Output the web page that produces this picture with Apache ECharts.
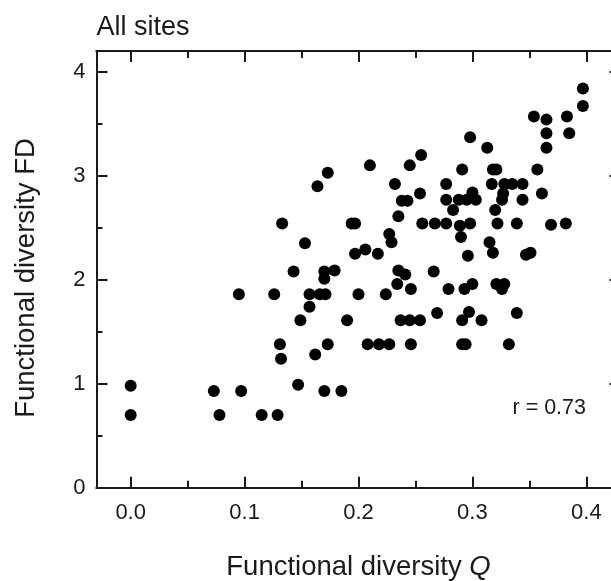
<!DOCTYPE html>
<html>
<head>
<meta charset="utf-8">
<script src="https://cdn.jsdelivr.net/npm/echarts@6/dist/echarts.min.js"></script>
<style>
html,body{margin:0;padding:0;background:#fff;}
#c{width:611px;height:581px;}
</style>
</head>
<body>
<div id="c"></div>
<script>
// Functional diversity Q (x) and FD (y) for all sites
const qValues = [
  0.173,0.164,0.133,0.153,
  0.397,0.397,0.354,0.365,0.383,0.365,0.385,0.365,0.298,0.313,0.255,0.210,0.245,0.291,0.318,0.321,
  0.357,0.232,0.277,0.317,0.328,0.335,0.344,0.254,0.361,0.300,0.327,0.238,0.243,0.277,0.288,0.295,
  0.303,0.326,0.344,0.283,0.320,0.235,0.194,0.197,0.256,0.267,0.277,0.289,0.298,0.322,0.339,0.369,
  0.382,0.227,0.229,0.290,0.315,0.197,0.206,0.217,0.296,0.318,0.347,0.351,
  0.235,0.241,0.266,0.234,0.246,0.200,0.224,0.279,0.293,0.300,0.321,0.326,0.328,0.190,0.237,0.245,
  0.254,0.269,0.291,0.297,0.308,0.339,0.208,0.218,0.227,0.246,0.291,0.294,0.332,
  0.143,0.170,0.179,0.170,0.095,0.126,0.157,0.166,0.171,0.157,0.149,0.131,0.132,0.173,0.162,
  0.000,0.000,0.073,0.097,0.147,0.170,0.185,0.078,0.115,0.129
];
const fdValues = [
  3.03,2.90,2.54,2.35,
  3.84,3.67,3.57,3.54,3.57,3.41,3.41,3.27,3.37,3.27,3.20,3.10,3.10,3.06,3.06,3.06,
  3.06,2.92,2.92,2.92,2.92,2.92,2.92,2.83,2.83,2.84,2.83,2.76,2.76,2.77,2.77,2.77,
  2.77,2.77,2.77,2.67,2.67,2.61,2.54,2.54,2.54,2.54,2.54,2.52,2.54,2.54,2.54,2.53,
  2.54,2.44,2.36,2.41,2.36,2.25,2.29,2.25,2.23,2.26,2.24,2.26,
  2.09,2.05,2.08,1.96,1.91,1.86,1.86,1.91,1.91,1.96,1.96,1.91,1.96,1.61,1.61,1.61,
  1.61,1.68,1.61,1.69,1.61,1.68,1.38,1.38,1.38,1.38,1.38,1.38,1.38,
  2.08,2.08,2.09,2.01,1.86,1.86,1.86,1.86,1.86,1.74,1.61,1.38,1.24,1.38,1.28,
  0.98,0.70,0.93,0.93,0.99,0.93,0.93,0.70,0.70,0.70
];
const xMajorTicks = [0, 0.1, 0.2, 0.3, 0.4];
const xMinorTicks = [0.05, 0.15, 0.25, 0.35];
const yMajorTicks = [0, 1, 2, 3, 4];
const yMinorTicks = [0.5, 1.5, 2.5, 3.5];
const titleText = 'All sites';
const xTitle = 'Functional diversity {q|Q}';
const yTitle = 'Functional diversity FD';
const noteText = 'r = 0.73';

const FONT = '"Liberation Sans", Arial, Helvetica, sans-serif';
const INK = '#1a1a1a';
const X_MIN = -0.03, X_MAX = 0.43, Y_MIN = 0, Y_MAX = 4.2;

function xAxisDef(position, ticks, len, labels) {
  return {
    type: 'value', position: position, min: X_MIN, max: X_MAX,
    axisLine: { show: true, onZero: false, lineStyle: { color: INK, width: 2 } },
    axisTick: { show: true, inside: true, length: len, customValues: ticks,
                lineStyle: { color: INK, width: 2 } },
    axisLabel: labels ? { show: true, customValues: ticks, margin: 14, fontSize: 22,
                fontFamily: FONT, color: INK, formatter: v => v.toFixed(1) } : { show: false },
    splitLine: { show: false }, minorTick: { show: false }
  };
}
function yAxisDef(position, ticks, len, labels) {
  return {
    type: 'value', position: position, min: Y_MIN, max: Y_MAX,
    axisLine: { show: true, onZero: false, lineStyle: { color: INK, width: 2 } },
    axisTick: { show: true, inside: true, length: len, customValues: ticks,
                lineStyle: { color: INK, width: 2 } },
    axisLabel: labels ? { show: true, customValues: ticks, margin: 11, fontSize: 22,
                fontFamily: FONT, color: INK, formatter: v => String(v) } : { show: false },
    splitLine: { show: false }, minorTick: { show: false }
  };
}

const chart = echarts.init(document.getElementById('c'), null, { renderer: 'canvas' });
chart.setOption({
  animation: false,
  backgroundColor: '#fff',
  textStyle: { fontFamily: FONT },
  grid: { left: 96.5, top: 51, width: 524, height: 436.7, containLabel: false, outerBoundsMode: 'none' },
  xAxis: [
    xAxisDef('bottom', xMajorTicks, 11, true),
    xAxisDef('bottom', xMinorTicks, 7, false),
    xAxisDef('top', xMajorTicks, 11, false),
    xAxisDef('top', xMinorTicks, 7, false)
  ],
  yAxis: [
    yAxisDef('left', yMajorTicks, 11, true),
    yAxisDef('left', yMinorTicks, 6, false),
    yAxisDef('right', yMajorTicks, 11, false),
    yAxisDef('right', yMinorTicks, 6, false)
  ],
  series: [{
    type: 'scatter', xAxisIndex: 0, yAxisIndex: 0,
    symbol: 'circle', symbolSize: 12,
    itemStyle: { color: '#000', opacity: 1 },
    data: qValues.map((q, i) => [q, fdValues[i]])
  }],
  graphic: [
    { type: 'text', x: 96.5, y: 27.5, style: { text: titleText, fontSize: 27, fontFamily: FONT,
        fill: INK, align: 'left', verticalAlign: 'middle' } },
    { type: 'text', x: 512.5, y: 408.5, style: { text: noteText, fontSize: 21.5, fontFamily: FONT,
        fill: INK, align: 'left', verticalAlign: 'middle' } },
    { type: 'text', x: 358.5, y: 567, style: { text: xTitle, fontSize: 27.5, fontFamily: FONT,
        fill: INK, align: 'center', verticalAlign: 'middle',
        rich: { q: { fontStyle: 'italic', fontSize: 27.5, fontFamily: FONT, fill: INK } } } },
    { type: 'text', x: 26.5, y: 278, rotation: Math.PI / 2, style: { text: yTitle, fontSize: 27.5,
        fontFamily: FONT, fill: INK, align: 'center', verticalAlign: 'middle' } }
  ]
});
</script>
</body>
</html>
